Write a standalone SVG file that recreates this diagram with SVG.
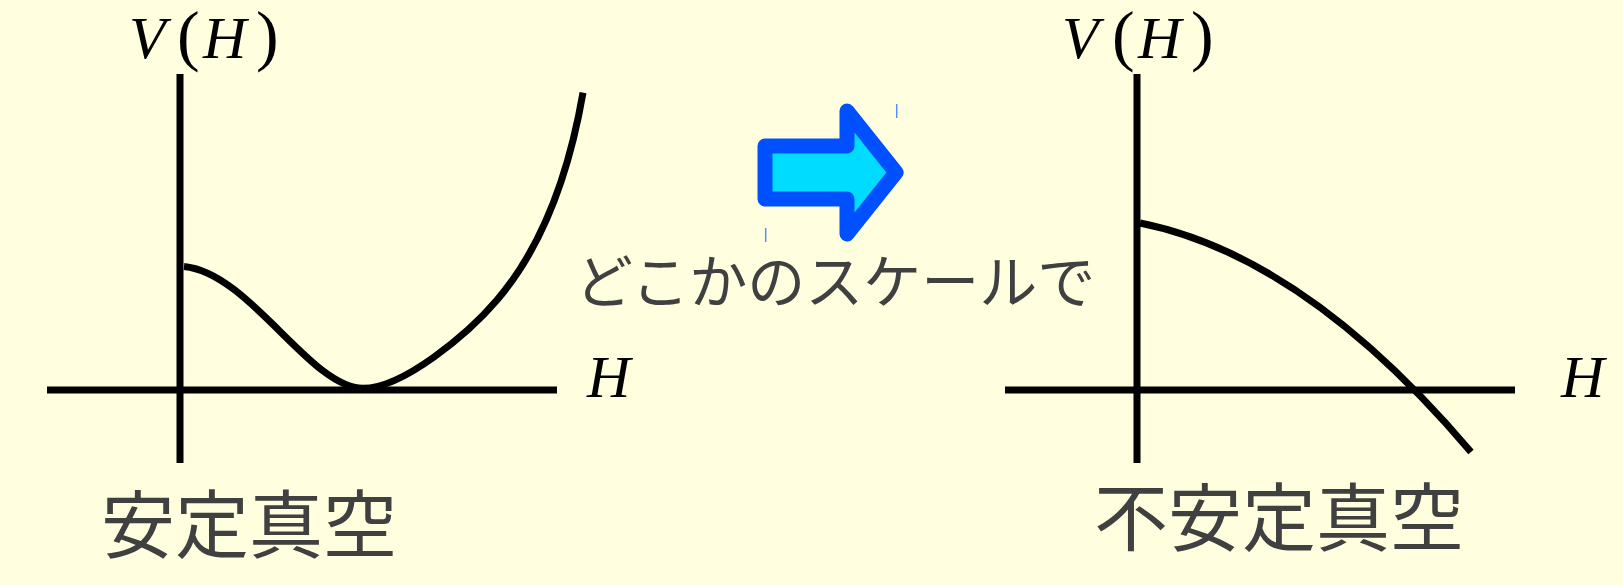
<svg xmlns="http://www.w3.org/2000/svg" width="1623" height="585" viewBox="0 0 1623 585">
  <style>
    .axis { stroke: #000; stroke-width: 7; fill: none; }
    .curve { stroke: #000; stroke-width: 7; fill: none; stroke-linecap: butt; }
    .math { font-family: "Liberation Serif", "DejaVu Serif", serif; font-style: italic; font-size: 60px; fill: #000; }
    .paren { font-family: "Liberation Serif", "DejaVu Serif", serif; font-size: 68px; fill: #000; }
    .jp { font-family: "Noto Sans CJK JP", "Noto Sans CJK SC", sans-serif; fill: #404040; }
    .tick { stroke: #5a8cff; stroke-width: 1.5; }
  </style>
  <rect x="0" y="0" width="1623" height="585" fill="#ffffe0"/>

  <g id="stable-plot">
    <line class="axis" x1="180" y1="74" x2="180" y2="463"/>
    <line class="axis" x1="47" y1="390" x2="557" y2="390"/>
    <path class="curve" d="M184,266.5 C250,273 310,388 363,388.3 C403,388.3 467.8,334.2 497,300 C542.5,246.8 569.4,171.5 583,92.7"/>
    <text class="math" x="129" y="58">V</text>
    <text class="paren" x="177" y="58">(</text>
    <text class="math" x="203" y="58">H</text>
    <text class="paren" x="256" y="58">)</text>
    <text class="math" x="587" y="397">H</text>
  </g>

  <g id="stable-label">
    <text class="jp" x="101" y="552" font-size="74">安定真空</text>
  </g>

  <g id="unstable-plot">
    <line class="axis" x1="1137" y1="74" x2="1137" y2="463"/>
    <line class="axis" x1="1005" y1="390" x2="1515" y2="390"/>
    <path class="curve" d="M1140,223 Q1305,256 1471,452"/>
    <text class="math" x="1062" y="58">V</text>
    <text class="paren" x="1112" y="58">(</text>
    <text class="math" x="1138" y="58">H</text>
    <text class="paren" x="1191" y="58">)</text>
    <text class="math" x="1561" y="397">H</text>
  </g>

  <g id="unstable-label">
    <text class="jp" x="1094" y="545" font-size="74">不安定真空</text>
  </g>

  <g id="connectors">
    <polygon points="765,146 847,146 847,111 896,172.5 847,234 847,199 765,199" fill="#00dcff" stroke="#0050ff" stroke-width="15" stroke-linejoin="round"/>
    <line class="tick" x1="896.7" y1="104" x2="896.7" y2="118"/>
    <line class="tick" x1="765.7" y1="228" x2="765.7" y2="242"/>
  </g>

  <g id="scale-label">
    <text class="jp" x="575" y="303" font-size="58">どこかのスケールで</text>
  </g>
</svg>
